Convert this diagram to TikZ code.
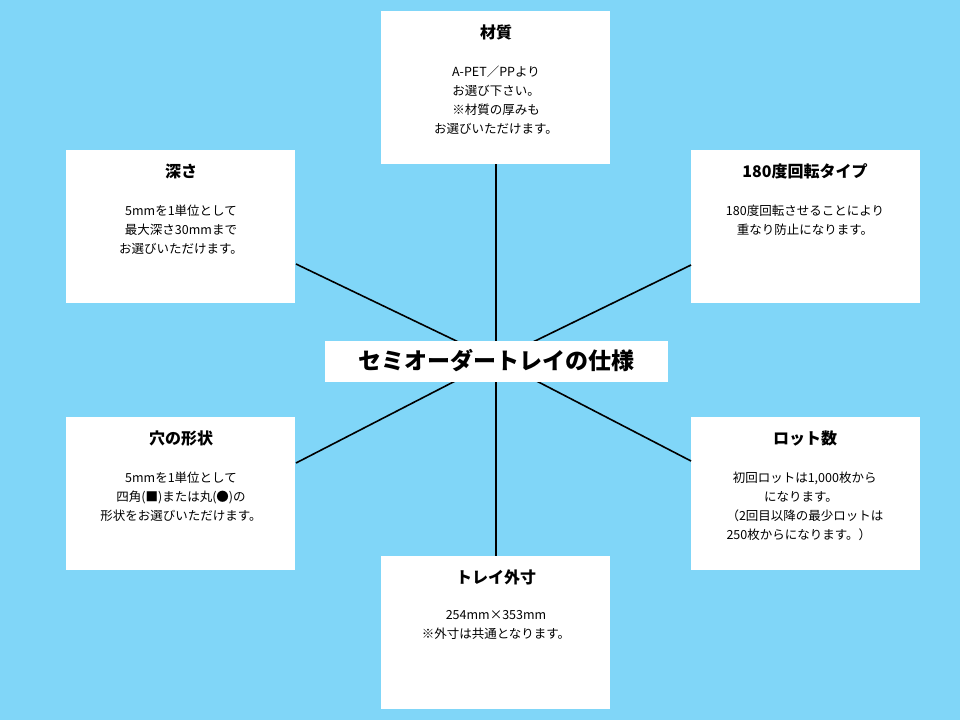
\documentclass[tikz,border=0pt]{standalone}
\usepackage{fontspec}
\setmainfont{Noto Sans CJK JP}
\newfontfamily\jpb{Noto Sans CJK JP Bold}
\begin{document}
\begin{tikzpicture}[x=1pt,y=-1pt,
  box/.style={fill=white,draw=none,minimum width=229pt,minimum height=153pt,anchor=north west,inner sep=0pt},
  ttl/.style={font=\fontsize{16}{18}\selectfont\bfseries,anchor=center},
  bdy/.style={font=\fontsize{12.5}{19}\selectfont,align=center,anchor=north},
  ln/.style={line width=1.6pt,black}]
\fill[fill={rgb,255:red,128;green,214;blue,248}] (0,0) rectangle (960,720);
\node[box] (b1) at (381,11) {};
\node[box] (b2) at (66,150) {};
\node[box] (b3) at (691,150) {};
\node[box] (b4) at (66,417) {};
\node[box] (b5) at (691,417) {};
\node[box] (b6) at (381,556) {};
\coordinate (c) at (496,360);
\coordinate (e2) at (296,264);
\coordinate (e3) at (691,265);
\coordinate (e4) at (296,463);
\coordinate (e5) at (691,461);
\draw[ln] (b1.south) -- (b6.north);
\draw[ln] (e2) -- (c) -- (e5);
\draw[ln] (e3) -- (c) -- (e4);
\node[fill=white,minimum width=343pt,minimum height=41pt,inner sep=0pt,font=\fontsize{23}{26}\selectfont\bfseries] (m) at (496,361) {セミオーダートレイの仕様};
\node[ttl] (t1) at (496,32) {材質};
\node[bdy] (d1) at (496,62) {A-PET／PPより\\お選び下さい。\\※材質の厚みも\\お選びいただけます。};
\node[ttl] (t2) at (181,171) {深さ};
\node[bdy] (d2) at (181,201) {5mmを1単位として\\最大深さ30mmまで\\お選びいただけます。};
\node[ttl] (t3) at (805,171) {180度回転タイプ};
\node[bdy] (d3) at (805,201) {180度回転させることにより\\重なり防止になります。};
\node[ttl] (t4) at (181,438) {穴の形状};
\node[bdy] (d4) at (181,468) {5mmを1単位として\\四角(■)または丸(●)の\\形状をお選びいただけます。};
\node[ttl] (t5) at (805,438) {ロット数};
\node[bdy,align=left] (d5) at (805,468) {\hspace*{0.5em}初回ロットは1,000枚から\\\hspace*{3em}になります。\\（2回目以降の最少ロットは\\250枚からになります。）};
\node[ttl] (t6) at (496,577) {トレイ外寸};
\node[bdy] (d6) at (496,607) {254mm×353mm\\※外寸は共通となります。};
\end{tikzpicture}
\end{document}
